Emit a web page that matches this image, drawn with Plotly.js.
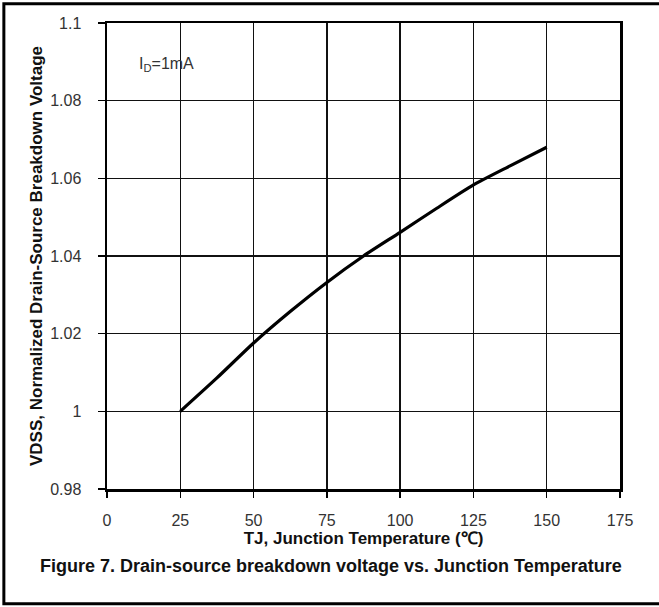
<!DOCTYPE html>
<html>
<head>
<meta charset="utf-8">
<script src="https://cdn.plot.ly/plotly-3.0.1.min.js"></script>
<style>
  html, body { margin: 0; padding: 0; background: #fff; }
  #chart { width: 659px; height: 607px; }
</style>
</head>
<body>
<div id="chart"></div>
<script>
// Data
const tempC = [25, 37.5, 50, 62.5, 75, 87.5, 100, 112.5, 125, 137.5, 150];
const vdssNorm = [1.000, 1.0086, 1.0176, 1.0257, 1.0332, 1.0400, 1.0461, 1.0523, 1.0583, 1.0632, 1.0680];

const xTickVals = [0, 25, 50, 75, 100, 125, 150, 175];
const xTickText = ["0", "25", "50", "75", "100", "125", "150", "175"];
const yTickVals = [0.98, 1.00, 1.02, 1.04, 1.06, 1.08, 1.10];
const yTickText = ["0.98", "1", "1.02", "1.04", "1.06", "1.08", "1.1"];

const xTitle = "TJ, Junction Temperature (\u2103)";
const yTitle = "VDSS, Normalized Drain-Source Breakdown Voltage";
const caption = "Figure 7. Drain-source breakdown voltage vs. Junction Temperature";
const condition = "I<sub>D</sub>=1mA";

const FONT = "Liberation Sans, Arial, sans-serif";

const trace = {
  x: tempC,
  y: vdssNorm,
  type: "scatter",
  mode: "lines",
  line: { color: "#000", width: 3.2, shape: "spline", smoothing: 0.6 },
  hoverinfo: "skip",
  showlegend: false
};

const L = 106.7, R = 39, T = 22.7, B = 117.5;
const W = 659 - L - R, H = 607 - T - B;
const px = v => (v - L) / W;
const py = v => (607 - B - v) / H;

const layout = {
  width: 659,
  height: 607,
  margin: { l: L, r: R, t: T, b: B, pad: 0 },
  paper_bgcolor: "#fff",
  plot_bgcolor: "#fff",
  font: { family: FONT, color: "#222", size: 16 },
  showlegend: false,
  xaxis: {
    range: [0, 175],
    tickvals: xTickVals,
    ticktext: xTickText,
    ticks: "outside",
    ticklen: 6,
    tickwidth: 1.5,
    tickcolor: "#000",
    ticklabelstandoff: 9,
    tickfont: { family: FONT, size: 16, color: "#333" },
    showgrid: true,
    gridcolor: "#111",
    gridwidth: 1.4,
    showline: true,
    linecolor: "#000",
    linewidth: 2.5,
    mirror: true,
    zeroline: false,
    fixedrange: true,
    title: { text: xTitle, font: { family: FONT, size: 17, color: "#111", weight: "bold" }, standoff: 5 }
  },
  yaxis: {
    range: [0.98, 1.10],
    tickvals: yTickVals,
    ticktext: yTickText,
    ticks: "outside",
    ticklen: 7,
    tickwidth: 1.5,
    tickcolor: "#000",
    ticklabelstandoff: 13,
    tickfont: { family: FONT, size: 16, color: "#333" },
    showgrid: true,
    gridcolor: "#111",
    gridwidth: 1.4,
    showline: true,
    linecolor: "#000",
    linewidth: 2.5,
    mirror: true,
    zeroline: false,
    fixedrange: true,
    title: { text: yTitle, font: { family: FONT, size: 17, color: "#111", weight: "bold" }, standoff: 3 }
  },
  annotations: [
    {
      text: condition,
      xref: "paper", yref: "paper",
      x: px(137), y: py(64),
      xanchor: "left", yanchor: "middle",
      showarrow: false,
      font: { family: FONT, size: 16, color: "#333" }
    },
    {
      text: "<b>" + caption + "</b>",
      xref: "paper", yref: "paper",
      x: px(331), y: py(567),
      xanchor: "center", yanchor: "middle",
      showarrow: false,
      font: { family: FONT, size: 18, color: "#111" }
    }
  ],
  shapes: [
    {
      type: "rect",
      xref: "paper", yref: "paper",
      x0: px(3.5), x1: px(700),
      y0: py(604.5), y1: py(3.5),
      line: { color: "#000", width: 3 },
      fillcolor: "rgba(0,0,0,0)",
      layer: "above"
    }
  ]
};

Plotly.newPlot("chart", [trace], layout, { displayModeBar: false, staticPlot: true });
</script>
</body>
</html>
